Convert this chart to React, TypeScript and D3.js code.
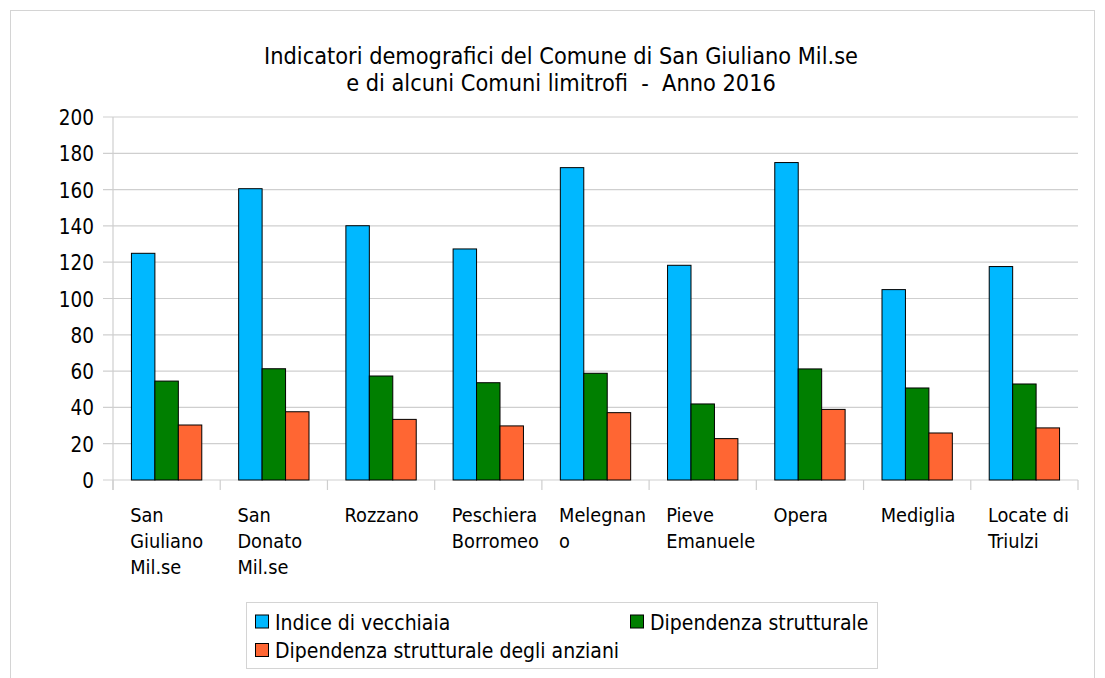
import React from "react";
import * as d3 from "d3";

const categories: string[][] = [
  ["San", "Giuliano", "Mil.se"],
  ["San", "Donato", "Mil.se"],
  ["Rozzano"],
  ["Peschiera", "Borromeo"],
  ["Melegnan", "o"],
  ["Pieve", "Emanuele"],
  ["Opera"],
  ["Mediglia"],
  ["Locate di", "Triulzi"],
];
const indiceVecchiaia = [124.9, 160.5, 140.1, 127.3, 172.1, 118.3, 174.9, 104.9, 117.6];
const dipendenzaStrutturale = [54.5, 61.3, 57.3, 53.6, 58.8, 41.9, 61.2, 50.7, 52.9];
const dipendenzaAnziani = [30.3, 37.6, 33.4, 29.8, 37.1, 22.8, 38.9, 25.9, 28.7];
const seriesNames = ["Indice di vecchiaia", "Dipendenza strutturale", "Dipendenza strutturale degli anziani"];
const seriesColors = ["#00b8ff", "#007f00", "#ff6633"];
const yTicks = [0, 20, 40, 60, 80, 100, 120, 140, 160, 180, 200];
const titleLines = ["Indicatori demografici del Comune di San Giuliano Mil.se", "e di alcuni Comuni limitrofi  -  Anno 2016"];

const FONT = "DejaVu Sans Condensed, DejaVu Sans, sans-serif";

export default function App() {
  const left = 113, right = 1078, top = 117, bottom = 480;
  const series = [indiceVecchiaia, dipendenzaStrutturale, dipendenzaAnziani];
  const idx = categories.map((_, i) => i);
  const x = d3.scaleBand<number>().domain(idx).range([left, right]).paddingInner(0).paddingOuter(0);
  const y = d3.scaleLinear().domain([0, 200]).range([bottom, top]);
  const bw = x.bandwidth();
  const inner = d3.scaleBand<number>().domain([0, 1, 2]).range([0.172 * bw, 0.828 * bw]);

  const legendItems = [
    { s: 0, x: 255, y: 614.5 },
    { s: 1, x: 630, y: 614.5 },
    { s: 2, x: 255, y: 643 },
  ];

  return (
    <svg width={1105} height={678} style={{ position: "absolute", left: 0, top: 0 }} fontFamily={FONT}>
      <rect x={0} y={0} width={1105} height={678} fill="#fff" />
      <rect x={10.5} y={10.5} width={1084} height={700} fill="none" stroke="#d4d4d4" strokeWidth={1} />
      {titleLines.map((t, i) => (
        <text key={i} x={561} y={64 + i * 27} textAnchor="middle" fontSize={23.3} fill="#000" style={{ whiteSpace: "pre" }}>
          {t}
        </text>
      ))}
      {yTicks.map((v) => (
        <g key={v}>
          <line x1={103} x2={right} y1={y(v)} y2={y(v)} stroke="#cfcfcf" strokeWidth={1.2} />
          <text x={94} y={y(v) + 8} textAnchor="end" fontSize={20.5} fill="#000">
            {v}
          </text>
        </g>
      ))}
      <line x1={left} x2={left} y1={top} y2={bottom + 10} stroke="#cfcfcf" strokeWidth={1.2} />
      {idx.concat([idx.length]).map((i) => (
        <line key={i} x1={left + i * bw} x2={left + i * bw} y1={bottom} y2={bottom + 10} stroke="#cfcfcf" strokeWidth={1.2} />
      ))}
      {series.map((vals, s) =>
        vals.map((v, i) => (
          <rect
            key={`${s}-${i}`}
            x={(x(i) as number) + (inner(s) as number)}
            y={y(v)}
            width={inner.bandwidth()}
            height={y(0) - y(v)}
            fill={seriesColors[s]}
            stroke="#000"
            strokeWidth={1}
          />
        ))
      )}
      {categories.map((lines, i) => (
        <text key={i} fontSize={19.8} fill="#000">
          {lines.map((l, j) => (
            <tspan key={j} x={(x(i) as number) + 0.16 * bw} y={521.5 + j * 26}>
              {l}
            </tspan>
          ))}
        </text>
      ))}
      <g>
        <rect x={246.5} y={602.5} width={631} height={66} fill="#fff" stroke="#d4d4d4" strokeWidth={1} />
        {legendItems.map(({ s, x: lx, y: ly }) => (
          <g key={s}>
            <rect x={lx + 0.5} y={ly + 0.5} width={13} height={13} fill={seriesColors[s]} stroke="#000" strokeWidth={1} />
            <text x={lx + 20} y={ly + 15} fontSize={21} fill="#000">
              {seriesNames[s]}
            </text>
          </g>
        ))}
      </g>
    </svg>
  );
}
